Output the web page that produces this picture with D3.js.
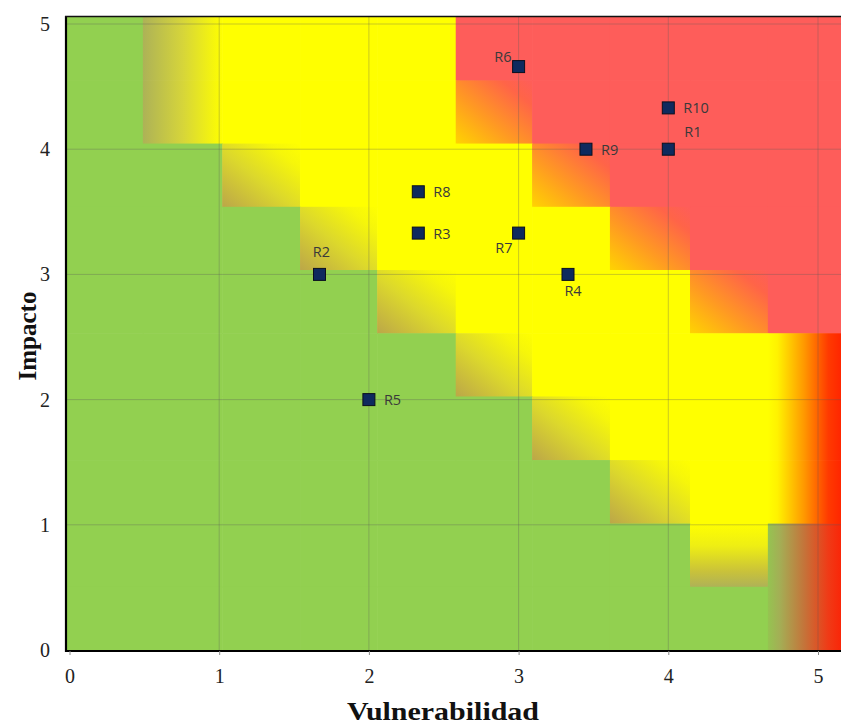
<!DOCTYPE html>
<html>
<head>
<meta charset="utf-8">
<script src="https://cdn.jsdelivr.net/npm/d3@7"></script>
<style>
  html, body { margin: 0; padding: 0; background: #fff; }
  svg { display: block; }
</style>
</head>
<body>
<div id="chart"></div>
<script>
// riesgos: vulnerabilidad (x) e impacto (y)
const riskNames = ['R1', 'R2', 'R3', 'R4', 'R5', 'R6', 'R7', 'R8', 'R9', 'R10'];
const vulnerabilidad = [4, 1.67, 2.33, 3.33, 2, 3, 3, 2.33, 3.45, 4];
const impacto = [4, 3, 3.33, 3, 2, 4.66, 3.33, 3.66, 4, 4.33];
const labelSide = ['aboveRight', 'above', 'right', 'below', 'right', 'aboveLeft', 'belowLeft', 'right', 'right', 'right'];

const xTicks = [0, 1, 2, 3, 4, 5];
const yTicks = [0, 1, 2, 3, 4, 5];

// fondo del mapa de calor: bordes de celdas (unidades de datos) y códigos de color
const cellXEdges = [-0.03, 0.49, 1.02, 1.54, 2.055, 2.58, 3.09, 3.61, 4.145, 4.665, 5.2];
const cellYEdges = [5.06, 4.55, 4.045, 3.54, 3.035, 2.53, 2.025, 1.517, 1.01, 0.505, 0];
const heatRows = [
  ['g', 'gyH', 'y', 'y', 'y', 'r', 'r', 'r', 'r', 'r'],
  ['g', 'gyH', 'y', 'y', 'y', 'yr', 'r', 'r', 'r', 'r'],
  ['g', 'g', 'gy', 'y', 'y', 'y', 'yr', 'r', 'r', 'r'],
  ['g', 'g', 'g', 'gy', 'y', 'y', 'y', 'yr', 'r', 'r'],
  ['g', 'g', 'g', 'g', 'gy', 'y', 'y', 'y', 'yr', 'r'],
  ['g', 'g', 'g', 'g', 'g', 'gy', 'y', 'y', 'y', 'yR'],
  ['g', 'g', 'g', 'g', 'g', 'g', 'gy', 'y', 'y', 'yR'],
  ['g', 'g', 'g', 'g', 'g', 'g', 'g', 'gy', 'y', 'yR'],
  ['g', 'g', 'g', 'g', 'g', 'g', 'g', 'g', 'yg', 'gR'],
  ['g', 'g', 'g', 'g', 'g', 'g', 'g', 'g', 'g', 'gR']
];

const W = 841, H = 725;
const pL = 66, pR = 841, pT = 17, pB = 650;
const GREEN = '#92d050', YELLOW = '#ffff00', SALMON = '#fe5d5a', RED = '#ff1a00';
const SERIF = '"Liberation Serif", "Times New Roman", serif';
const SANS = '"Open Sans", "Noto Sans", sans-serif';

const svg = d3.select('#chart').append('svg').attr('width', W).attr('height', H);
const x = d3.scaleLinear().domain([0, 5]).range([69.5, 818]);
const y = d3.scaleLinear().domain([0, 5.056]).range([pB, pT]);

const defs = svg.append('defs');
defs.append('clipPath').attr('id', 'plotClip').append('rect')
  .attr('x', pL).attr('y', pT).attr('width', pR - pL).attr('height', pB - pT);

function grad(id, dir, stops) {
  const [x1, y1, x2, y2] = dir;
  const g = defs.append('linearGradient').attr('id', id)
    .attr('x1', x1).attr('y1', y1).attr('x2', x2).attr('y2', y2);
  stops.forEach(([o, c]) => g.append('stop').attr('offset', o).attr('stop-color', c));
}
grad('gyH', [0, 0, 1, 0], [[0, '#adb257'], [0.5, '#d6d53a'], [1, YELLOW]]);
grad('gy', [0, 1, 1, 0], [[0, '#bba649'], [0.45, '#dcd82c'], [0.8, '#f6f60a'], [1, YELLOW]]);
grad('yr', [0, 1, 1, 0], [[0, '#ffd400'], [0.4, '#ff9a22'], [0.8, '#ff6448'], [1, SALMON]]);
grad('yR', [0, 0, 1, 0], [[0, YELLOW], [0.12, '#fff200'], [0.45, '#ff9800'], [0.75, '#ff3a00'], [1, RED]]);
grad('gR', [0, 0, 1, 0], [[0, '#95c451'], [0.15, '#a4ae55'], [0.45, '#c4743a'], [0.75, '#f03a16'], [1, RED]]);
grad('yg', [0, 0, 0, 1], [[0, YELLOW], [0.35, '#eeee14'], [0.75, '#c9c23a'], [1, '#aeb158']]);

const fillFor = { g: GREEN, y: YELLOW, r: SALMON, gyH: 'url(#gyH)', gy: 'url(#gy)', yr: 'url(#yr)', yR: 'url(#yR)', gR: 'url(#gR)', yg: 'url(#yg)' };

const cells = [];
heatRows.forEach((row, r) => row.forEach((code, c) => cells.push({ r, c, code })));

const heat = svg.append('g').attr('clip-path', 'url(#plotClip)');
heat.selectAll('rect').data(cells).join('rect')
  .attr('x', d => x(cellXEdges[d.c]))
  .attr('y', d => y(cellYEdges[d.r]))
  .attr('width', d => x(cellXEdges[d.c + 1]) - x(cellXEdges[d.c]) + 0.6)
  .attr('height', d => y(cellYEdges[d.r + 1]) - y(cellYEdges[d.r]) + 0.6)
  .attr('fill', d => fillFor[d.code]);

// líneas de cuadrícula
const grid = svg.append('g').attr('clip-path', 'url(#plotClip)');
xTicks.filter(t => t > 0).forEach(t => {
  grid.append('line').attr('x1', x(t)).attr('x2', x(t)).attr('y1', pT).attr('y2', pB)
    .attr('stroke', 'rgba(90,90,90,0.32)').attr('stroke-width', 1);
});
yTicks.filter(t => t > 0).forEach(t => {
  grid.append('line').attr('x1', pL).attr('x2', pR).attr('y1', y(t)).attr('y2', y(t))
    .attr('stroke', 'rgba(90,90,90,0.32)').attr('stroke-width', 1);
});

// ejes
const xAxis = svg.append('g').attr('transform', `translate(0,${pB + 1})`)
  .call(d3.axisBottom(x).tickValues(xTicks).tickFormat(d3.format('d')).tickSize(4).tickSizeOuter(0).tickPadding(14));
const yAxis = svg.append('g').attr('transform', `translate(${pL},0)`)
  .call(d3.axisLeft(y).tickValues(yTicks).tickFormat(d3.format('d')).tickSize(0).tickSizeOuter(0).tickPadding(16));
[xAxis, yAxis].forEach(a => {
  a.select('.domain').attr('stroke', '#000').attr('stroke-width', 2.2);
  a.selectAll('.tick line').attr('stroke', '#888');
  a.selectAll('.tick text').attr('font-family', SERIF).attr('font-size', 20).attr('fill', '#222');
});
xAxis.select('.domain').attr('d', `M${pL - 1},0H${pR}`);
yAxis.select('.domain').attr('d', `M0,${pB + 2}V${pT - 1}`);
svg.append('line').attr('x1', pL - 1).attr('x2', pR).attr('y1', pT - 0.5).attr('y2', pT - 0.5)
  .attr('stroke', '#111').attr('stroke-width', 1.6);

// títulos de ejes
svg.append('text').attr('x', 443).attr('y', 720).attr('text-anchor', 'middle')
  .attr('font-family', SERIF).attr('font-weight', 700).attr('font-size', 26).attr('fill', '#111')
  .attr('textLength', 192).attr('lengthAdjust', 'spacingAndGlyphs')
  .text('Vulnerabilidad');
svg.append('text').attr('transform', `translate(36,${336}) rotate(-90)`).attr('text-anchor', 'middle')
  .attr('font-family', SERIF).attr('font-weight', 700).attr('font-size', 25).attr('fill', '#111')
  .text('Impacto');

// puntos de riesgo
const points = riskNames.map((name, i) => ({ name, vx: vulnerabilidad[i], vy: impacto[i], side: labelSide[i] }));
const S = 12;
svg.append('g').selectAll('rect').data(points).join('rect')
  .attr('x', d => x(d.vx) - S / 2).attr('y', d => y(d.vy) - S / 2)
  .attr('width', S).attr('height', S)
  .attr('fill', '#0e2a5e').attr('stroke', '#0a0f1e').attr('stroke-width', 1);

const offsets = {
  right: [15, 5.5, 'start'],
  aboveRight: [16, -12, 'start'],
  above: [2, -17, 'middle'],
  below: [5, 22, 'middle'],
  belowLeft: [-6, 20, 'end'],
  aboveLeft: [-7, -5, 'end']
};
svg.append('g').selectAll('text').data(points).join('text')
  .attr('x', d => x(d.vx) + offsets[d.side][0])
  .attr('y', d => y(d.vy) + offsets[d.side][1])
  .attr('text-anchor', d => offsets[d.side][2])
  .attr('font-family', SANS).attr('font-size', 14.5).attr('fill', '#3a3a3a')
  .text(d => d.name);
</script>
</body>
</html>
